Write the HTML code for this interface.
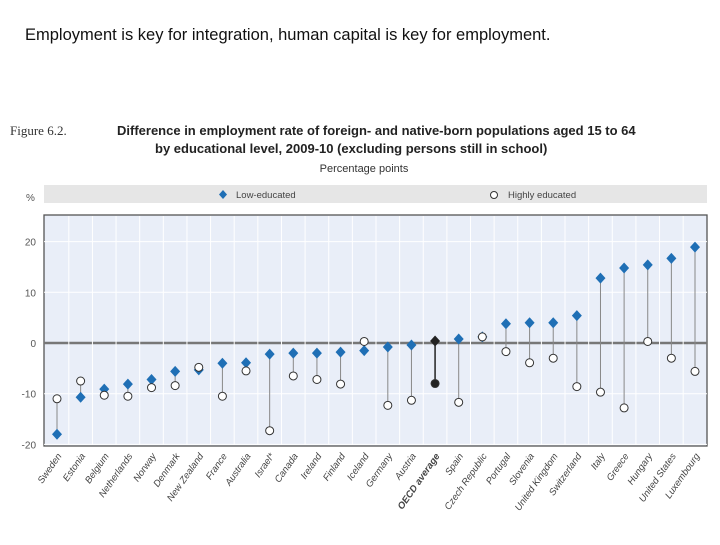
<!DOCTYPE html>
<html><head><meta charset="utf-8"><style>
body{margin:0;width:720px;height:540px;background:#fff;overflow:hidden;font-family:"Liberation Sans",sans-serif}
</style></head><body>
<svg id="chart" width="720" height="540" xmlns="http://www.w3.org/2000/svg">
<text x="25" y="40" font-size="16.5" fill="#111">Employment is key for integration, human capital is key for employment.</text>
<text x="10" y="135" font-size="13" font-family="Liberation Serif,serif" fill="#333">Figure 6.2.</text>
<text x="117" y="135" font-size="13" font-weight="bold" fill="#222">Difference in employment rate of foreign- and native-born populations aged 15 to 64</text>
<text x="155" y="153" font-size="13" font-weight="bold" fill="#222">by educational level, 2009-10 (excluding persons still in school)</text>
<text x="364" y="172" font-size="11" text-anchor="middle" fill="#333">Percentage points</text>
<rect x="44" y="185" width="663" height="18" fill="#e6e6e6"/>
<g><path d="M223 190l4 4.5-4 4.5-4-4.5z" fill="#1f6fb5"/><text x="236" y="198" font-size="9.5" fill="#444">Low-educated</text></g>
<g><circle cx="494" cy="195" r="3.5" fill="#fff" stroke="#333"/><text x="508" y="198" font-size="9.5" fill="#444">Highly educated</text></g>
<text x="26" y="201" font-size="10" fill="#555">%</text>
<rect x="44" y="215" width="663" height="231" fill="#e9eef8" stroke="#555" stroke-width="1.3"/>
<g id="grid"></g><g id="marks"></g><g id="labels"></g>
</svg>
<script>
var categories=["Sweden","Estonia","Belgium","Netherlands","Norway","Denmark","New Zealand","France","Australia","Israel*","Canada","Ireland","Finland","Iceland","Germany","Austria","OECD average","Spain","Czech Republic","Portugal","Slovenia","United Kingdom","Switzerland","Italy","Greece","Hungary","United States","Luxembourg"];
var lowEducated=[-18,-10.7,-9.1,-8.1,-7.2,-5.6,-5.3,-4,-3.9,-2.2,-2,-2,-1.8,-1.5,-0.8,-0.4,0.4,0.8,1.2,3.8,4.0,4.0,5.4,12.8,14.8,15.4,16.7,18.9];
var highlyEducated=[-11,-7.5,-10.3,-10.5,-8.8,-8.4,-4.8,-10.5,-5.5,-17.3,-6.5,-7.2,-8.1,0.3,-12.3,-11.3,-8,-11.7,1.2,-1.7,-3.9,-3,-8.6,-9.7,-12.8,0.3,-3,-5.6];
var yTicks=[20,10,0,-10,-20];
var NS="http://www.w3.org/2000/svg";
function yScale(v){return 343-v*5.07;}
function xScale(i){return 57+i*(695-57)/(categories.length-1);}
function mk(t,a,p){var e=document.createElementNS(NS,t);for(var k in a)e.setAttribute(k,a[k]);p.appendChild(e);return e;}
var g=document.getElementById('grid'),m=document.getElementById('marks'),L=document.getElementById('labels');
yTicks.forEach(function(v){
  var l=mk('line',{x1:44,x2:707,y1:yScale(v),y2:yScale(v),stroke:v===0?'#777':'#fff','stroke-width':v===0?2.5:1},g);
  
  
  var t=mk('text',{x:36,y:yScale(v)+4,'font-size':10,'text-anchor':'end',fill:'#555'},g);
  t.textContent=String(v);
  
  
});
categories.forEach(function(c,i){
  var xi=xScale(i);
  var xv=xi+11.8;
  if(i<categories.length-1){
    var vl=mk('line',{x1:xv,x2:xv,y1:216,y2:445,stroke:'#fff','stroke-width':1},g);
    
    
  }
  var oecd=c==="OECD average";
  var col=oecd?'#222':'#1f6fb5';
  var yl=yScale(lowEducated[i]),yh=yScale(highlyEducated[i]);
  var st=mk('line',{x1:xi,x2:xi,y1:yl,y2:yh,stroke:oecd?'#222':'#888','stroke-width':oecd?1.5:1},m);
  
  
  var d=mk('path',{d:'M'+xi+' '+(yl-5.5)+'l5 5.5-5 5.5-5-5.5z',fill:col},m);
  
  
  var o=mk('circle',{cx:xi,cy:yh,r:4,fill:oecd?'#222':'#fff',stroke:'#333','stroke-width':1},m);
  
  
  var t=mk('text',{x:xi+5,y:456,'font-size':9.5,'text-anchor':'end',fill:'#444','font-style':'italic','font-weight':oecd?'bold':'normal',transform:'rotate(-55 '+(xi+5)+' 456)'},L);
  t.textContent=c;
  
  
});
</script>
</body></html>
